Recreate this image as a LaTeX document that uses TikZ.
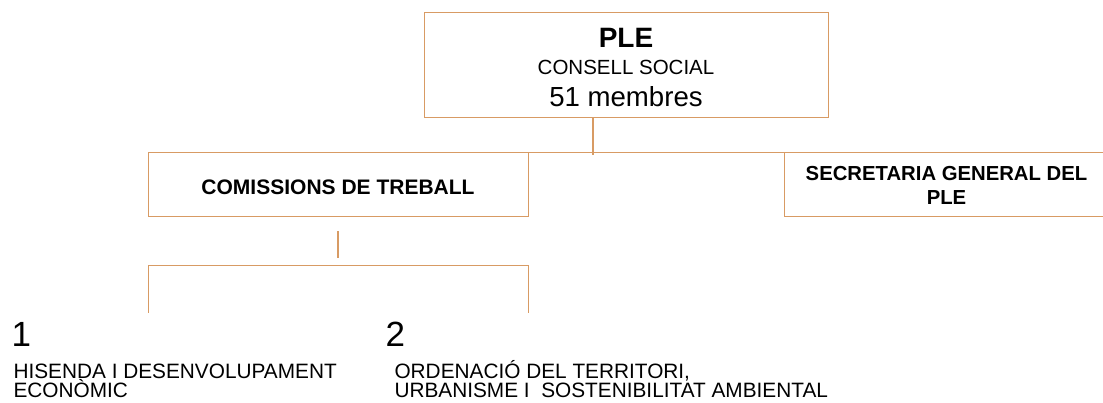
\documentclass[tikz,border=0pt]{standalone}
\usepackage{fontspec}
\setmainfont{Liberation Sans}
\usepackage{xcolor}
\definecolor{tanline}{RGB}{216,155,100}
\usetikzlibrary{positioning}

\begin{document}
\begin{tikzpicture}[x=1pt,y=-1pt,
    orgbox/.style={draw=tanline,line width=1pt,inner sep=0pt,align=center},
    orgconn/.style={draw=tanline,line width=2.4pt}]
    \useasboundingbox (0,0) rectangle (1103,403);
    \clip (0,0) rectangle (1103,403);
    \node[orgbox,minimum width=404pt,minimum height=105pt] (ple) at (626,65.5){};
    \node[anchor=base,font=\fontsize{28}{30}\selectfont\bfseries] (pletitle) at (626,48){PLE};
    \node[anchor=base,font=\fontsize{20.5}{24}\selectfont] (plesub) at (626,75){CONSELL SOCIAL};
    \node[anchor=base,font=\fontsize{27.6}{30}\selectfont] (plenum) at (626,107){51 membres};
    \node[orgbox,minimum width=380pt,minimum height=64pt,text height=20pt,text depth=0pt,
      font=\fontsize{21}{24}\selectfont\bfseries] (comis) at (338,185){COMISSIONS DE TREBALL};
    \node[orgbox,minimum width=325pt,minimum height=64pt,
      font=\fontsize{20.3}{24}\selectfont\bfseries] (secr) at (946.5,185){SECRETARIA GENERAL DEL\\PLE};
    \coordinate (plebar) at (593,155);
    \draw[orgconn] (ple.south -| plebar) -- (plebar);
    \draw[orgbox] (comis.north east) -- (secr.north west);
    \coordinate (lowtop) at (338,258);
    \draw[orgconn] ([yshift=-14pt]comis.south) -- (lowtop);
    \coordinate (lowleft) at (148,266);
    \coordinate (lowright) at (528,266);
    \draw[orgbox] ([yshift=-47pt]lowleft) -- (lowleft) -- (lowright) -- ([yshift=-47pt]lowright);
    \node[anchor=base west,font=\fontsize{35}{36}\selectfont] (numone) at (8,346){1};
    \node[anchor=base west,align=left,font=\fontsize{20.8}{19}\selectfont] (commone) at (10,397){HISENDA I DESENVOLUPAMENT\\ECONÒMIC};
    \node[anchor=base west,font=\fontsize{35}{36}\selectfont] (numtwo) at (382,346){2};
    \node[anchor=base west,align=left,font=\fontsize{20.8}{19}\selectfont] (commtwo) at (391,397){ORDENACIÓ DEL TERRITORI,\\URBANISME I~ SOSTENIBILITAT AMBIENTAL};
\end{tikzpicture}
\end{document}
